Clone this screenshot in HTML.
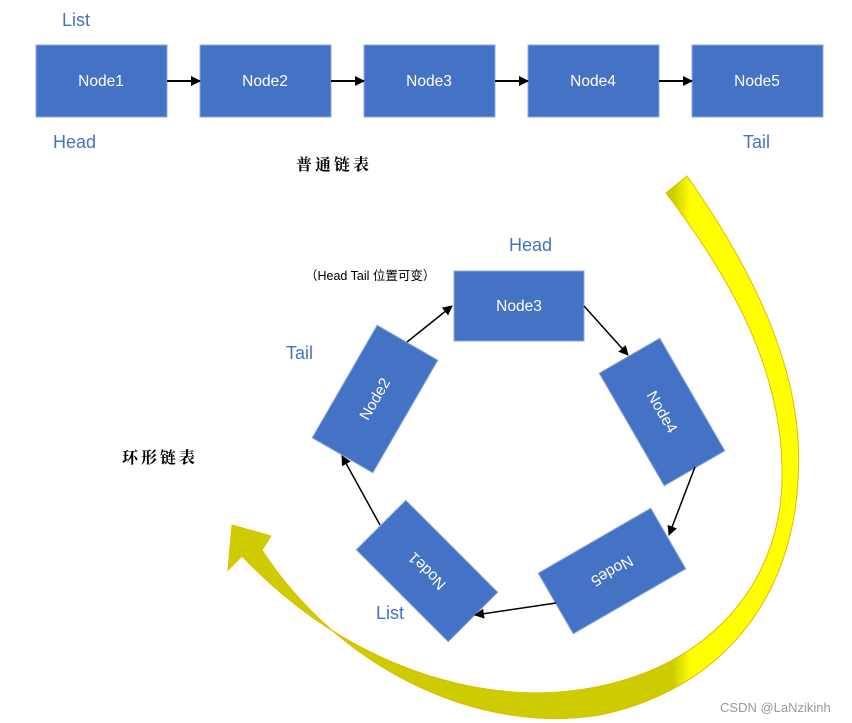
<!DOCTYPE html>
<html><head><meta charset="utf-8"><style>
html,body{margin:0;padding:0;background:#fff;}
svg{display:block}
.n{font-family:"Liberation Sans","Noto Sans CJK SC",sans-serif;font-size:15.5px;fill:#fff}
.b{font-family:"Liberation Sans",sans-serif;font-size:18px;fill:#4472c4}
.c{font-family:"Noto Serif CJK SC","Noto Sans CJK SC",serif;font-size:16px;font-weight:bold;fill:#000;letter-spacing:3px}
</style></head><body>
<svg width="852" height="723" viewBox="0 0 852 723" xmlns="http://www.w3.org/2000/svg">
<defs>
<marker id="a" markerWidth="10" markerHeight="10" refX="9" refY="5" orient="auto" markerUnits="userSpaceOnUse"><path d="M0,0 L10,5 L0,10 z" fill="#000"/></marker>
<linearGradient id="g" gradientUnits="userSpaceOnUse" x1="0" y1="0" x2="852" y2="0">
<stop offset="0.79" stop-color="#cccc00"/><stop offset="0.81" stop-color="#ffff00"/></linearGradient>
</defs>
<path d="M687,176 C760,280 805,380 798,480 C792,600 720,690 600,715 C480,735 340,670 262,550 L271,536 L232,525 L228,570 L242,556 C330,650 450,700 560,692 C700,680 780,590 782,480 C784,380 740,290 666,193 Z" fill="url(#g)" stroke="#e8b800" stroke-width="1"/>
<g fill="#4472c4" stroke="#8faadc" stroke-width="1">
<rect x="36" y="45" width="131" height="72"/>
<rect x="200" y="45" width="131" height="72"/>
<rect x="364" y="45" width="131" height="72"/>
<rect x="528" y="45" width="131" height="72"/>
<rect x="692" y="45" width="131" height="72"/>
</g>
<text class="n" x="101" y="86" text-anchor="middle">Node1</text>
<text class="n" x="265" y="86" text-anchor="middle">Node2</text>
<text class="n" x="429" y="86" text-anchor="middle">Node3</text>
<text class="n" x="593" y="86" text-anchor="middle">Node4</text>
<text class="n" x="757" y="86" text-anchor="middle">Node5</text>
<g stroke="#000" stroke-width="2" marker-end="url(#a)">
<line x1="167" y1="81" x2="200" y2="81"/>
<line x1="331" y1="81" x2="364" y2="81"/>
<line x1="495" y1="81" x2="528" y2="81"/>
<line x1="659" y1="81" x2="692" y2="81"/>
</g>
<text class="b" x="62" y="26">List</text>
<text class="b" x="53" y="148">Head</text>
<text class="b" x="743" y="148">Tail</text>
<text class="c" x="296" y="170">普通链表</text>
<text class="c" x="122" y="463">环形链表</text>
<g fill="#4472c4" stroke="#8faadc" stroke-width="1">
<rect x="454" y="271" width="130" height="70"/>
<rect x="-65" y="-35" width="130" height="70" transform="translate(375,399) rotate(-60)"/>
<rect x="-65" y="-35" width="130" height="70" transform="translate(662,412) rotate(60)"/>
<rect x="-65" y="-35" width="130" height="70" transform="translate(612,571) rotate(150)"/>
<rect x="-65" y="-35" width="130" height="70" transform="translate(427,571) rotate(225)"/>
</g>
<text class="n" x="519" y="311" text-anchor="middle">Node3</text>
<text class="n" text-anchor="middle" transform="translate(375,399) rotate(-60)" y="5">Node2</text>
<text class="n" text-anchor="middle" transform="translate(662,412) rotate(60)" y="5">Node4</text>
<text class="n" text-anchor="middle" transform="translate(612,571) rotate(150)" y="5">Node5</text>
<text class="n" text-anchor="middle" transform="translate(427,571) rotate(225)" y="5">Node1</text>
<g stroke="#000" stroke-width="1.5" marker-end="url(#a)">
<line x1="407" y1="342" x2="452" y2="306"/>
<line x1="584" y1="306" x2="628" y2="355"/>
<line x1="695" y1="467" x2="669" y2="535"/>
<line x1="556" y1="603" x2="475" y2="615"/>
<line x1="380" y1="525" x2="342" y2="456"/>
</g>
<text class="b" x="509" y="251">Head</text>
<text class="b" x="286" y="359">Tail</text>
<text class="b" x="376" y="619">List</text>
<text x="305" y="280" font-family="Liberation Sans,Noto Sans CJK SC,sans-serif" font-size="12.5" fill="#000">（Head Tail 位置可变）</text>
<text x="720" y="712" font-family="Liberation Sans,sans-serif" font-size="13" fill="#999">CSDN @LaNzikinh</text>
</svg>
</body></html>
